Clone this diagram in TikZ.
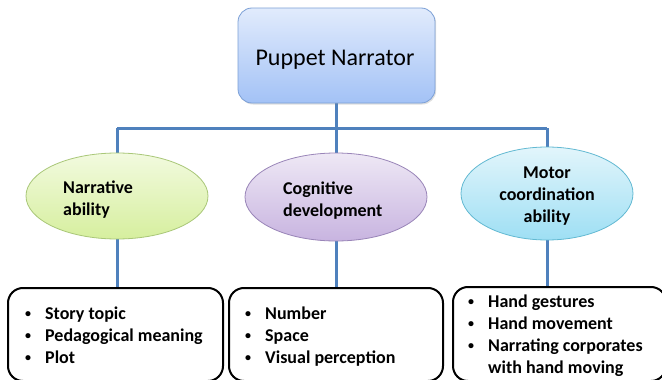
\documentclass[tikz,border=0pt]{standalone}
\usepackage{fontspec}
\setmainfont{Carlito}
\usetikzlibrary{shapes.geometric,backgrounds,shadows}
\definecolor{conn}{HTML}{4F81BD}
\definecolor{topA}{HTML}{E1EBFC}
\definecolor{topB}{HTML}{A3C2F6}
\definecolor{topD}{HTML}{7CA0D6}
\definecolor{grA}{HTML}{F2FADF}
\definecolor{grB}{HTML}{D6EF9E}
\definecolor{grD}{HTML}{A9C778}
\definecolor{puA}{HTML}{EEE8F5}
\definecolor{puB}{HTML}{C8B4E0}
\definecolor{puD}{HTML}{9985B8}
\definecolor{cyA}{HTML}{E2F5FB}
\definecolor{cyB}{HTML}{9EDFF4}
\definecolor{cyD}{HTML}{62B9D2}
\tikzset{
  connector/.style={draw=conn, line width=3pt},
  topbox/.style={rectangle, rounded corners=14pt, draw=topD, line width=0.8pt,
    top color=topA, bottom color=topB, minimum width=197pt, minimum height=95pt,
    inner sep=0pt, drop shadow={opacity=0.25, shadow xshift=1.2pt, shadow yshift=-1.5pt}},
  catellipse/.style={ellipse, line width=0.8pt, inner sep=0pt},
  listbox/.style={rectangle, rounded corners=15pt, draw=black, line width=2pt,
    fill=white, inner sep=0pt, minimum height=93pt},
  txt/.style={inner sep=0pt, font=\fontsize{18}{22}\selectfont\bfseries},
  bul/.style={txt, anchor=base west},
}
\newcommand{\bulit}{\makebox[20pt][l]{\raisebox{1.5pt}{\fontsize{12}{12}\selectfont\textbullet}}}
\begin{document}
\begin{tikzpicture}[x=1pt, y=-1pt]
\useasboundingbox (0,0) rectangle (662,380);

% top box
\node[topbox] (top) at (336.5,55.5) {};
\node[inner sep=0pt, anchor=base, font=\fontsize{24}{28}\selectfont] (toptxt) at (335,65) {Puppet Narrator};

% ellipses
\node[catellipse, draw=grD, top color=grA, bottom color=grB, minimum width=182pt, minimum height=86pt] (e1) at (117,196) {};
\node[catellipse, draw=puD, top color=puA, bottom color=puB, minimum width=182pt, minimum height=88pt] (e2) at (336,197) {};
\node[catellipse, draw=cyD, top color=cyA, bottom color=cyB, minimum width=172pt, minimum height=93pt] (e3) at (547,193.5) {};

\node[bul] (e1a) at (63,193) {Narrative};
\node[bul] (e1b) at (63,215) {ability};
\node[bul] (e2a) at (283,194) {Cognitive};
\node[bul] (e2b) at (283,216) {development};
\node[txt, anchor=base] (e3a) at (547,178) {Motor};
\node[txt, anchor=base] (e3b) at (547,200) {coordination};
\node[txt, anchor=base] (e3c) at (547,222) {ability};

% list boxes
\node[listbox, minimum width=215pt] (b1) at (115.5,334.5) {};
\node[listbox, minimum width=214pt] (b2) at (336,334.5) {};
\node[listbox, minimum width=213pt, minimum height=94pt] (b3) at (559.5,334) {};

\node[bul] (b1a) at (25,319) {\bulit Story topic};
\node[bul] (b1b) at (25,341) {\bulit Pedagogical meaning};
\node[bul] (b1c) at (25,363) {\bulit Plot};

\node[bul] (b2a) at (245,319) {\bulit Number};
\node[bul] (b2b) at (245,341) {\bulit Space};
\node[bul] (b2c) at (245,363) {\bulit Visual perception};

\node[bul] (b3a) at (468,307) {\bulit Hand gestures};
\node[bul] (b3b) at (468,329) {\bulit Hand movement};
\node[bul] (b3c) at (468,351) {\bulit Narrating corporates};
\node[bul] (b3d) at (488,373) {with hand moving};

% connectors
\coordinate (busL) at (117,128);
\coordinate (busR) at (547,128);
\begin{scope}[on background layer]
\fill[white] (0,0) rectangle (662,380);
\draw[connector] (top.south) -- (top.south |- busL);
\draw[connector] (busL) -- (busR);
\draw[connector] (busL) -- (e1.north);
\draw[connector] (busR) -- (e3.north);
\draw[connector] (top.south |- busL) -- (top.south |- e2.north);
\draw[connector] (e1.south) -- (e1.south |- b1.north);
\draw[connector] (e2.south) -- (e2.south |- b2.north);
\draw[connector] (e3.south) -- (e3.south |- b3.north);
\end{scope}
\end{tikzpicture}
\end{document}
